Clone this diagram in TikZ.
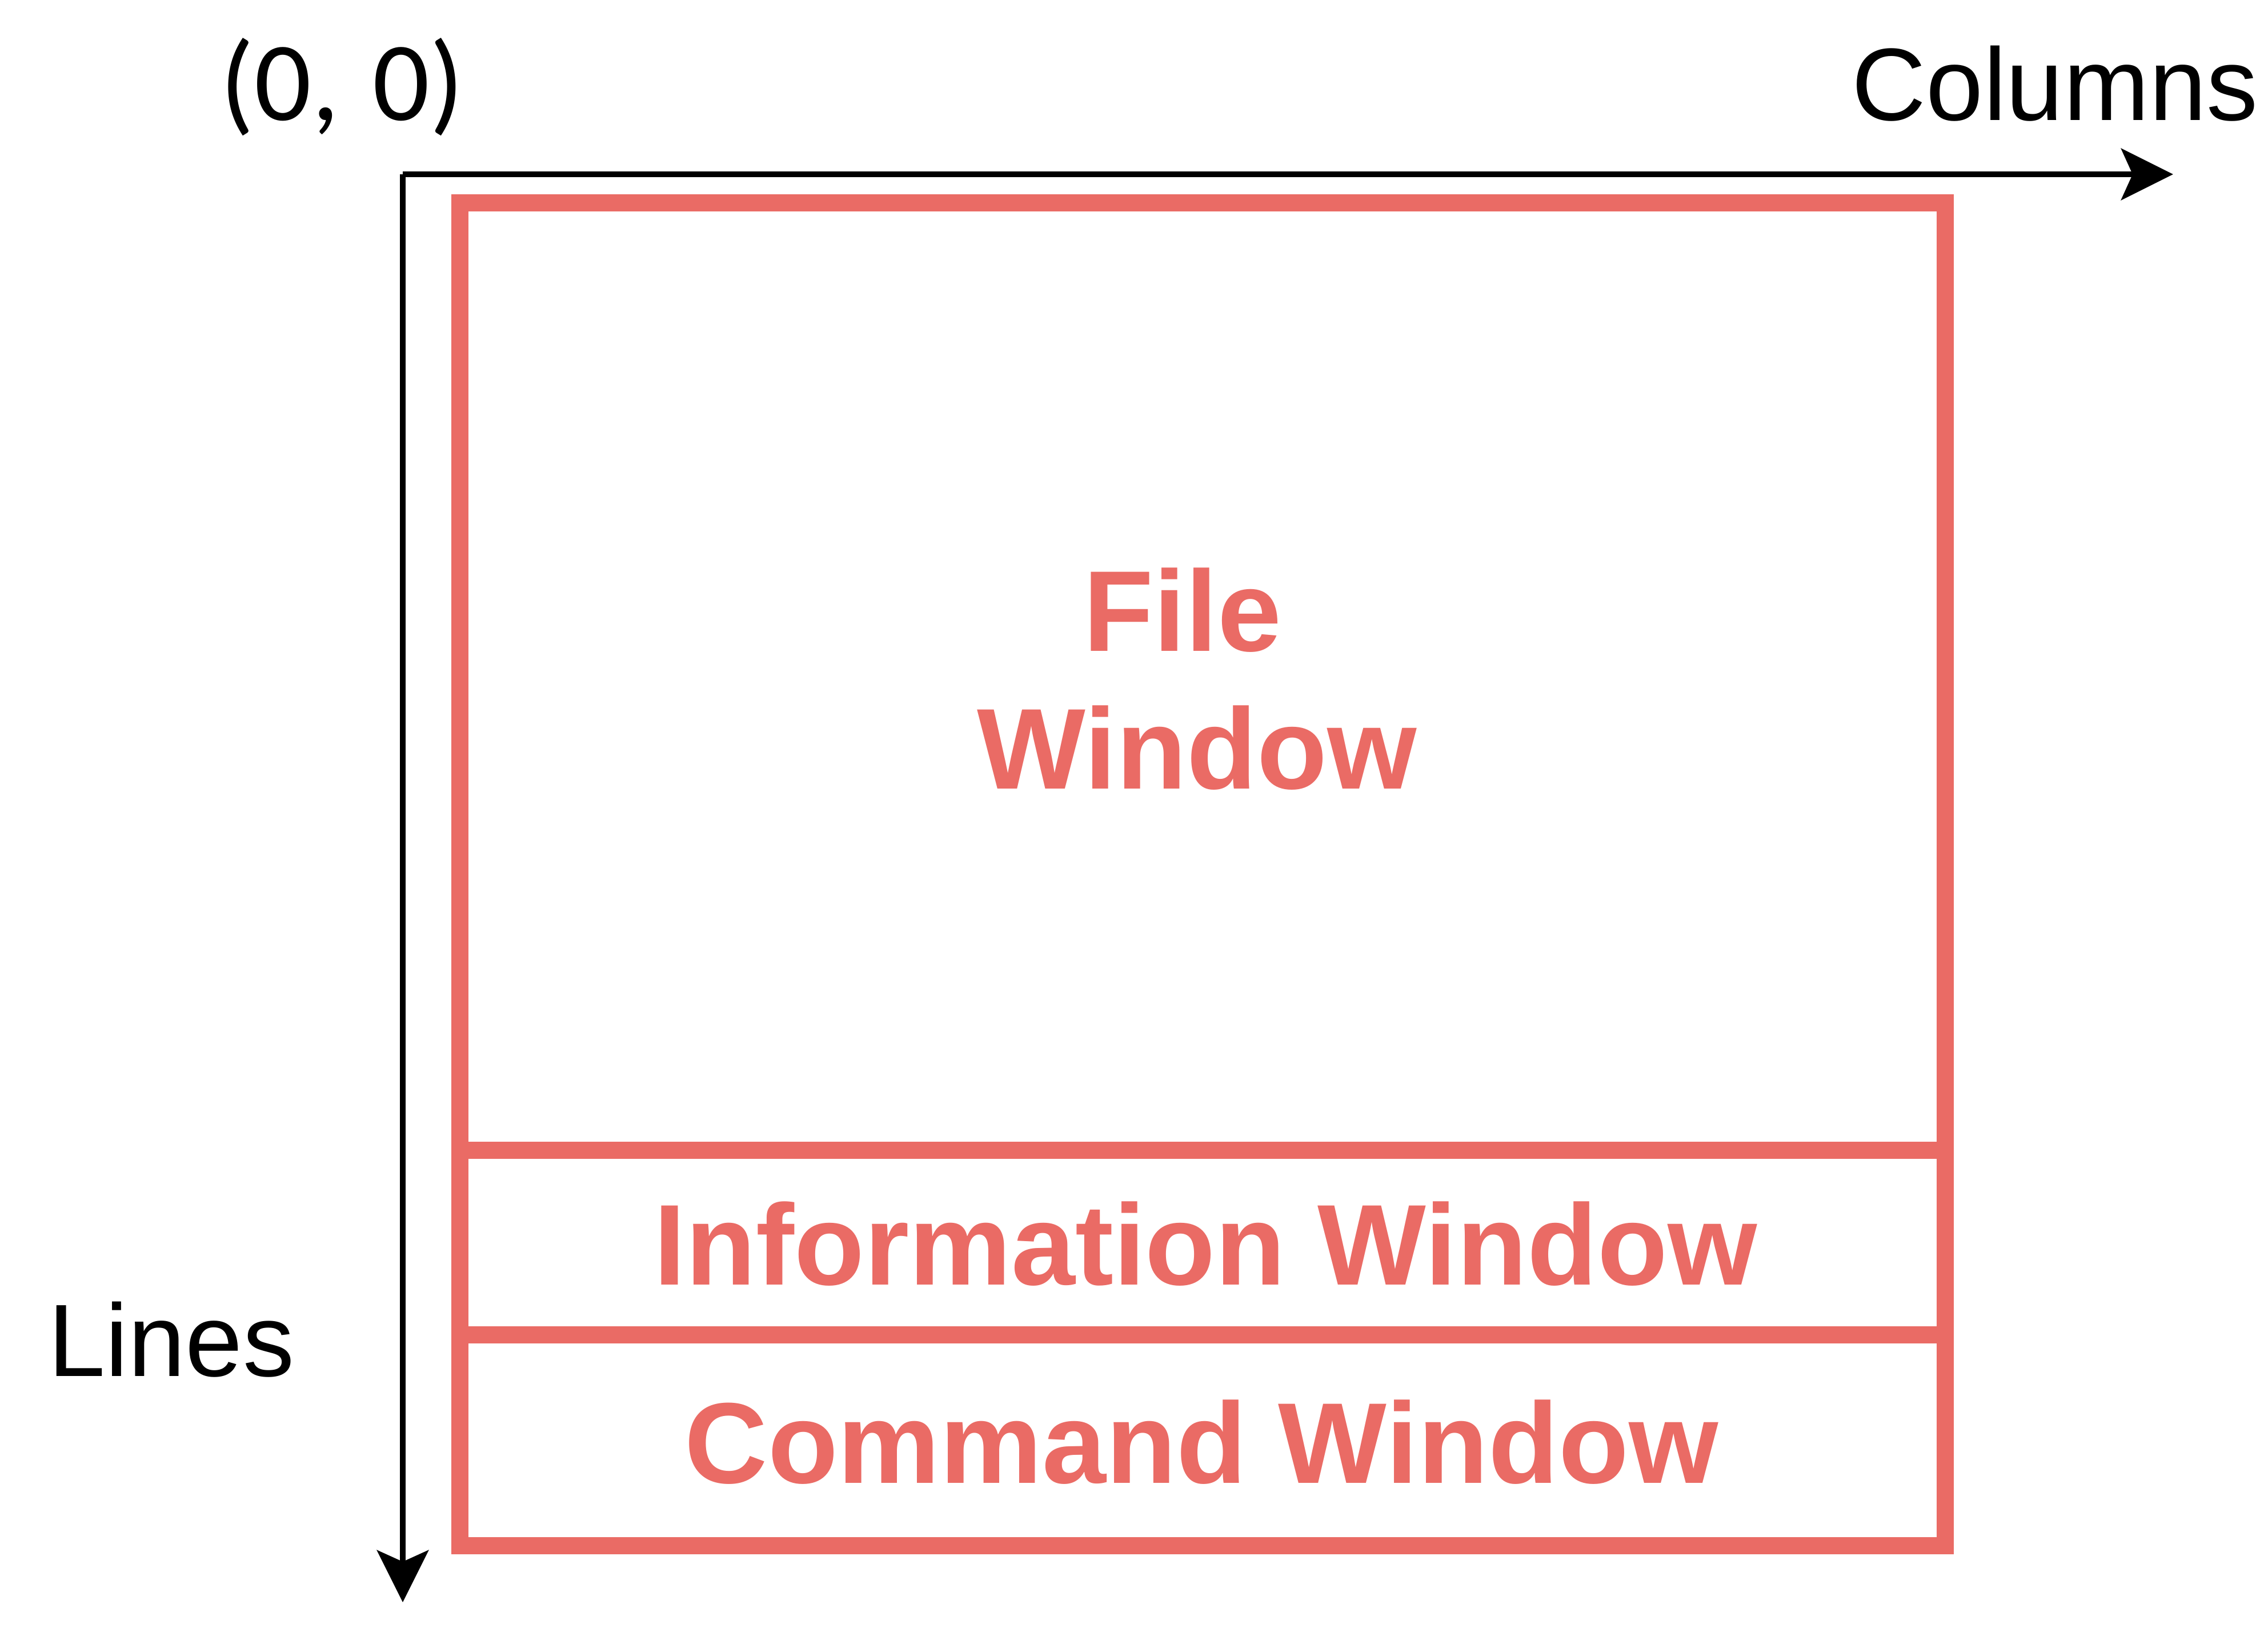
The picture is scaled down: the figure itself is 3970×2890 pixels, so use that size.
\documentclass[tikz,border=0pt]{standalone}
\usepackage{fontspec}
\setmainfont{Liberation Sans}
\newfontfamily\carlito{Carlito}
\usetikzlibrary{arrows.meta}
\definecolor{winred}{RGB}{234,107,101}
\tikzset{
  redtxt/.style={text=winred, font=\fontsize{57.2pt}{68pt}\selectfont\bfseries, inner sep=0pt, anchor=base},
  blktxt/.style={text=black, font=\fontsize{51.2pt}{61pt}\selectfont, inner sep=0pt},
  axis/.style={line width=2.85pt, -{Stealth[length=0.91cm, width=0.9cm, inset=0.2cm]}},
  winbox/.style={draw=winred, line width=8.54pt},
}
\begin{document}
\begin{tikzpicture}[x=0.01cm, y=-0.01cm]
\useasboundingbox (0,0) rectangle (3970,2890);
% axes
\coordinate (origin) at (705,305);
\coordinate (colend) at (3804,305);
\coordinate (lineend) at (705,2804);
\draw[axis] (origin) -- (colend);
\draw[axis] (origin) -- (lineend);
% window boxes
\draw[winbox] (805,355) rectangle (3405,2705);
\draw[winbox] (805,2013) -- (3405,2013);
\draw[winbox] (805,2336) -- (3405,2336);
% labels
\node[redtxt] (file1) at (2070,1139) {File};
\node[redtxt] (file2) at (2095,1380) {Window};
\node[redtxt] (info) at (2110,2248) {Information Window};
\node[redtxt] (cmd) at (2103,2595) {Command Window};
\node[blktxt, anchor=base west, font=\fontsize{56pt}{66pt}\selectfont\carlito] (orig) at (385,210) {(0,\hspace{4pt} 0)};
\node[blktxt, anchor=base east] (cols) at (3953,210) {Columns};
\node[blktxt, anchor=base west] (lines) at (84,2408) {Lines};
\end{tikzpicture}
\end{document}
